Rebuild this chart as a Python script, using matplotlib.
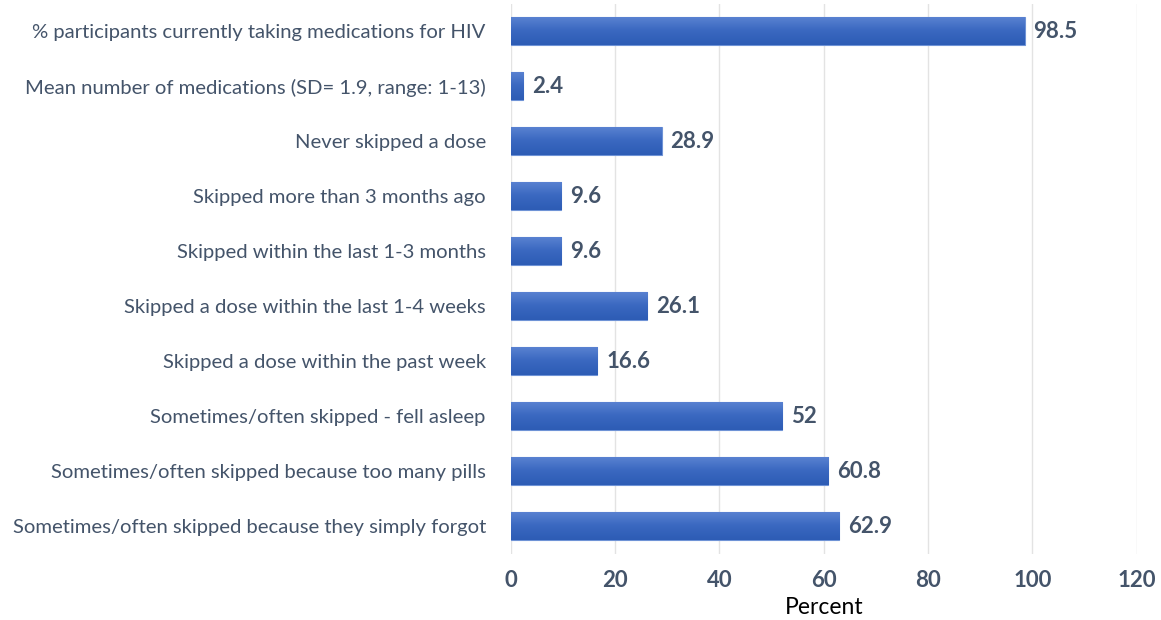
import numpy as np
import matplotlib.pyplot as plt
from matplotlib.colors import LinearSegmentedColormap

plt.rcParams['font.family'] = ['Lato', 'DejaVu Sans']

labels = [
    "% participants currently taking medications for HIV",
    "Mean number of medications (SD= 1.9, range: 1-13)",
    "Never skipped a dose",
    "Skipped more than 3 months ago",
    "Skipped within the last 1-3 months",
    "Skipped a dose within the last 1-4 weeks",
    "Skipped a dose within the past week",
    "Sometimes/often skipped - fell asleep",
    "Sometimes/often skipped because too many pills",
    "Sometimes/often skipped because they simply forgot",
]
values = [98.5, 2.4, 28.9, 9.6, 9.6, 26.1, 16.6, 52, 60.8, 62.9]
value_text = ["98.5", "2.4", "28.9", "9.6", "9.6", "26.1", "16.6", "52", "60.8", "62.9"]
xticks = [0, 20, 40, 60, 80, 100, 120]

text_col = '#44546a'

fig = plt.figure(figsize=(11.61, 6.2), dpi=100)
ax = fig.add_axes([0.440, 0.107, 0.539, 0.887])

y = np.arange(len(labels))
bars = ax.barh(y, values, height=0.51, color='#4472c4', edgecolor='#6f93d6', linewidth=0.8, zorder=2)

cmap = LinearSegmentedColormap.from_list('g', ['#5b83d2', '#3a68c0', '#2d5cb5'])
grad = np.linspace(0, 1, 64).reshape(-1, 1)
for b in bars:
    x0, y0 = b.get_x(), b.get_y()
    w, h = b.get_width(), b.get_height()
    im = ax.imshow(grad, cmap=cmap, aspect='auto', extent=[x0, x0 + w, y0 + h, y0],
                   origin='upper', zorder=2.5)
    im.set_clip_path(b)

for yi, v, t in zip(y, values, value_text):
    ax.text(v + 1.7, yi, t, va='center', ha='left', fontsize=16, fontweight='bold', color=text_col)

ax.set_xlim(0, 120)
ax.set_ylim(len(labels) - 0.5, -0.5)
ax.set_xticks(xticks)
ax.set_xticklabels([str(t) for t in xticks], fontsize=16, fontweight='bold', color=text_col)
ax.set_yticks(y)
ax.set_yticklabels(labels, fontsize=14.6, color=text_col)
ax.tick_params(axis='both', length=0)
ax.tick_params(axis='x', pad=12)
ax.tick_params(axis='y', pad=18)
ax.xaxis.grid(True, color='#e3e3e3', linewidth=1, zorder=0)
ax.set_axisbelow(True)
for s in ax.spines.values():
    s.set_visible(False)
ax.set_xlabel('Percent', fontsize=16.5, color='black', labelpad=4)

fig.savefig('out.png', dpi=100)
